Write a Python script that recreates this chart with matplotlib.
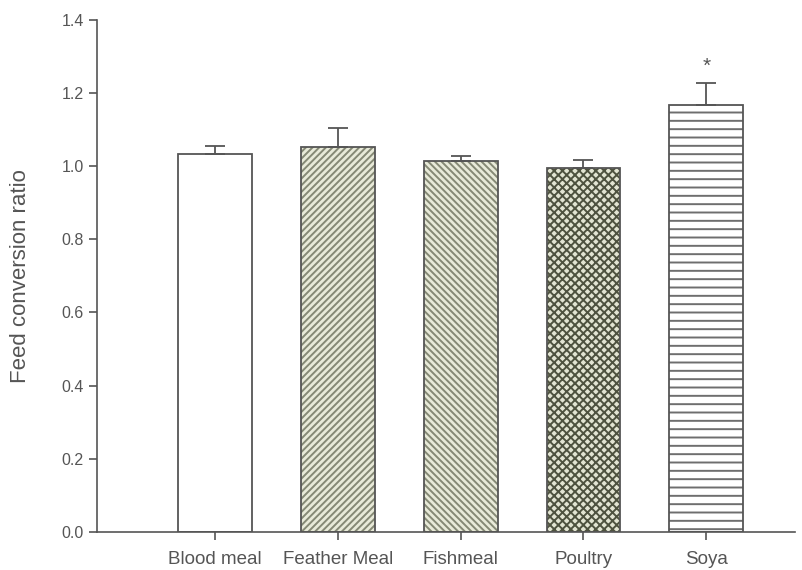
import numpy as np
import matplotlib
matplotlib.use('Agg')
import matplotlib.pyplot as plt

plt.rcParams['font.family'] = ['Liberation Sans', 'DejaVu Sans']
plt.rcParams['hatch.linewidth'] = 1.4

# data
feeds = ['Blood meal', 'Feather Meal', 'Fishmeal', 'Poultry', 'Soya']
fcr = [1.032, 1.052, 1.014, 0.994, 1.168]
fcr_err = [0.024, 0.052, 0.014, 0.022, 0.060]
signif = ['', '', '', '', '*']

# look of each bar
fills = ['white', '#e8ead9', '#e8ead9', '#e2e4d2', 'white']
hatch_cols = ['white', '#858975', '#858975', '#4e523f', '#6e6e6e']
hatches = ['', '/////', '\\\\\\\\\\', 'xxxx', '--']

fig = plt.figure(figsize=(8.02, 5.70), dpi=100)
ax = fig.add_axes([0.121, 0.067, 0.87, 0.898])

x = np.arange(len(feeds))
w = 0.6
# hatched fill first, then a clean outline on top
for i in range(len(feeds)):
    ax.bar(x[i], fcr[i], w, color=fills[i], edgecolor=hatch_cols[i],
           hatch=hatches[i], linewidth=0, zorder=2)
ax.bar(x, fcr, w, fill=False, edgecolor='#555555', linewidth=1.3, zorder=3)

ax.errorbar(x, fcr, yerr=[np.zeros(len(fcr)), fcr_err], fmt='none',
            ecolor='#555555', elinewidth=1.3, capsize=7, capthick=1.3, zorder=4)

for i in range(len(feeds)):
    if signif[i]:
        ax.text(x[i], fcr[i] + fcr_err[i] + 0.045, signif[i], ha='center',
                va='center', fontsize=15, color='#555555')

ax.set_xlim(-0.96, 4.72)
ax.set_ylim(0, 1.4)
ax.set_yticks(np.arange(0, 1.41, 0.2))
ax.set_yticklabels(['%.1f' % v for v in np.arange(0, 1.41, 0.2)])
ax.set_xticks(x)
ax.set_xticklabels(feeds, fontsize=13.5)
ax.set_ylabel('Feed conversion ratio', fontsize=16, color='#555555', labelpad=22)

for s in ['top', 'right']:
    ax.spines[s].set_visible(False)
for s in ['left', 'bottom']:
    ax.spines[s].set_color('#555555')
    ax.spines[s].set_linewidth(1.2)
ax.tick_params(axis='both', colors='#555555', labelcolor='#555555',
               length=6, width=1.2, direction='out')
ax.tick_params(axis='y', labelsize=11.5)
ax.tick_params(axis='x', pad=8)

fig.savefig('out.png', dpi=100)
